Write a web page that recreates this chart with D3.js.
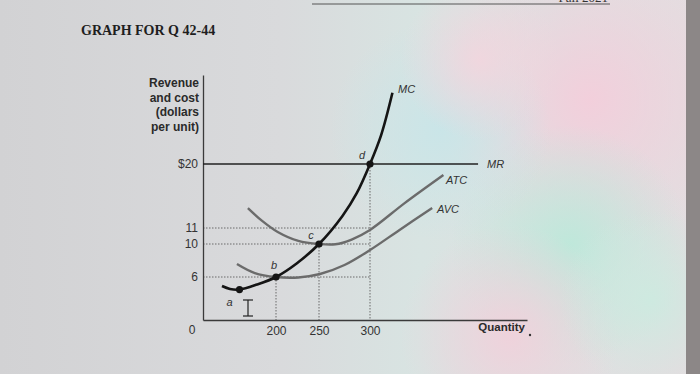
<!DOCTYPE html>
<html>
<head>
<meta charset="utf-8">
<script src="https://cdn.jsdelivr.net/npm/d3@7"></script>
<style>
  body { margin: 0; padding: 0; overflow: hidden; }
  svg { display: block; }
</style>
</head>
<body>
<div id="container"></div>
<script>
// values (quantity, dollars per unit)
var mcQ   = [52, 74, 100, 148, 200, 224, 250, 273, 287, 300, 311, 322];
var mcC   = [4.74, 4.33, 4.25, 4.95, 6, 7.64, 10, 12.7, 15.9, 20, 24.1, 30];
var atcQ  = [123, 162, 202, 226, 250, 266, 282, 300, 334, 372];
var atcC  = [13.8, 12, 10.75, 10.19, 10, 9.97, 10.28, 10.88, 14.5, 18.45];
var avcQ  = [93, 142, 200, 226, 251, 275, 300, 329, 361];
var avcC  = [7.58, 6.48, 6, 5.93, 6.36, 7.45, 9.27, 10.88, 13.8];
var mrPrice = 20;
var mrEnd = 406;

var pointNames = ["a", "b", "c", "d"];
var pointQ = [100, 200, 250, 300];
var pointC = [4.25, 6, 10, 20];

var yTicks = [6, 10, 11, 20];
var xTicks = [200, 250, 300];
var dottedPrices = [6, 10, 11];

var width = 700, height = 374;

var svg = d3.select("#container").append("svg")
  .attr("width", width)
  .attr("height", height);

// photo-ish background
var defs = svg.append("defs");
var base = defs.append("linearGradient").attr("id", "base")
  .attr("x1", "0").attr("x2", "1").attr("y1", "0").attr("y2", "0");
base.append("stop").attr("offset", "0").attr("stop-color", "#d2d2d4");
base.append("stop").attr("offset", "0.4").attr("stop-color", "#d9dadc");
base.append("stop").attr("offset", "0.6").attr("stop-color", "#d8e4e2");
base.append("stop").attr("offset", "1").attr("stop-color", "#e4dde0");
svg.append("rect").attr("width", width).attr("height", height).attr("fill", "url(#base)");

var blobs = [
  {id: "b1", cx: 590, cy: 100, r: 150, c: "#f3cedb"},
  {id: "b2", cx: 570, cy: 245, r: 120, c: "#bde8da"},
  {id: "b3", cx: 440, cy: 130, r: 110, c: "#c9e5e8"},
  {id: "b4", cx: 510, cy: 335, r: 110, c: "#f0d1db"},
  {id: "b5", cx: 650, cy: 300, r: 90, c: "#cdeae0"},
  {id: "b6", cx: 480, cy: 60, r: 80, c: "#f1d6de"}
];
blobs.forEach(function(b) {
  var g = defs.append("radialGradient").attr("id", b.id);
  g.append("stop").attr("offset", "0").attr("stop-color", b.c).attr("stop-opacity", 0.95);
  g.append("stop").attr("offset", "1").attr("stop-color", b.c).attr("stop-opacity", 0);
  svg.append("circle").attr("cx", b.cx).attr("cy", b.cy).attr("r", b.r)
    .attr("fill", "url(#" + b.id + ")");
});

// monitor edge at the right and the cut header at top
svg.append("rect").attr("x", 686).attr("y", 0).attr("width", 14).attr("height", height)
  .attr("fill", "#8c8787");
svg.append("line").attr("x1", 312).attr("x2", 610).attr("y1", 4).attr("y2", 4)
  .attr("stroke", "#555").attr("stroke-width", 1);
svg.append("text").attr("x", 608).attr("y", 2).attr("text-anchor", "end")
  .style("font-family", "Liberation Serif").style("font-size", "13px").attr("fill", "#333")
  .text("Fall 2021");

// title
svg.append("text")
  .attr("x", 81).attr("y", 35)
  .style("font-family", "Liberation Serif, serif")
  .style("font-weight", "bold")
  .style("font-size", "14px")
  .attr("fill", "#1e1e1e")
  .text("GRAPH FOR Q 42-44");

// scales: the drawing is not to scale, so piecewise
var x = d3.scaleLinear()
  .domain([0, 200, 250, 300, 454])
  .range([203, 276, 319, 370, 527]);
var y = d3.scaleLinear()
  .domain([0, 6, 10, 11, 20, 32.5])
  .range([320, 277, 244, 228, 164, 75]);

var font = "Liberation Sans, Arial, sans-serif";

// dotted guides
var guides = svg.append("g")
  .attr("stroke", "#6a6a6a")
  .attr("stroke-width", 1)
  .attr("stroke-dasharray", "1.5,1.5");
dottedPrices.forEach(function(p) {
  guides.append("line")
    .attr("x1", x(0)).attr("x2", x(300))
    .attr("y1", y(p)).attr("y2", y(p));
});
for (var i = 1; i < pointQ.length; i++) {
  guides.append("line")
    .attr("x1", x(pointQ[i])).attr("x2", x(pointQ[i]))
    .attr("y1", y(pointC[i])).attr("y2", y(0));
}

// axes
var yAxis = svg.append("g")
  .attr("transform", "translate(" + x(0) + ",0)")
  .call(d3.axisLeft(y).tickValues(yTicks).tickSize(0).tickPadding(5)
    .tickFormat(function(d) { return d == 20 ? "$20" : d; }));
var xAxis = svg.append("g")
  .attr("transform", "translate(0," + y(0) + ")")
  .call(d3.axisBottom(x).tickValues(xTicks).tickSize(0).tickPadding(6));
[yAxis, xAxis].forEach(function(a) {
  a.select(".domain").attr("stroke", "#3a3a3a").attr("stroke-width", 1.3);
  a.selectAll("text").style("font-family", font).style("font-size", "12px").attr("fill", "#333");
});

svg.append("text").attr("x", 192).attr("y", 334).attr("text-anchor", "middle")
  .style("font-family", font).style("font-size", "12px").attr("fill", "#333").text("0");

var yTitle = ["Revenue", "and cost", "(dollars", "per unit)"];
svg.append("text")
  .attr("text-anchor", "end")
  .style("font-family", font).style("font-weight", "bold").style("font-size", "12px")
  .attr("fill", "#2a2a2a")
  .selectAll("tspan").data(yTitle).enter().append("tspan")
  .attr("x", 199)
  .attr("y", function(d, i) { return 87 + i * 14.5; })
  .text(function(d) { return d; });

svg.append("text").attr("x", 525).attr("y", 331).attr("text-anchor", "end")
  .style("font-family", font).style("font-weight", "bold").style("font-size", "11.5px")
  .attr("fill", "#2a2a2a").text("Quantity");
svg.append("circle").attr("cx", 530).attr("cy", 335).attr("r", 1.2).attr("fill", "#333");

// MR
svg.append("line")
  .attr("x1", x(0)).attr("x2", x(mrEnd))
  .attr("y1", y(mrPrice)).attr("y2", y(mrPrice))
  .attr("stroke", "#222").attr("stroke-width", 1.6);

// cost curves
var line = d3.line()
  .x(function(d) { return x(d[0]); })
  .y(function(d) { return y(d[1]); })
  .curve(d3.curveCatmullRom.alpha(0.5));

function zip(a, b) { return a.map(function(v, i) { return [v, b[i]]; }); }

svg.append("path").datum(zip(atcQ, atcC)).attr("d", line)
  .attr("fill", "none").attr("stroke", "#6b6b6b").attr("stroke-width", 2.4);
svg.append("path").datum(zip(avcQ, avcC)).attr("d", line)
  .attr("fill", "none").attr("stroke", "#6b6b6b").attr("stroke-width", 2.4);
svg.append("path").datum(zip(mcQ, mcC)).attr("d", line)
  .attr("fill", "none").attr("stroke", "#151515").attr("stroke-width", 2.6);

// marked points
svg.selectAll("circle.pt").data(pointQ).enter().append("circle")
  .attr("class", "pt")
  .attr("cx", function(d) { return x(d); })
  .attr("cy", function(d, i) { return y(pointC[i]); })
  .attr("r", 3.6)
  .attr("fill", "#151515");

var labelOffsets = [[-10, 12], [-2, -12], [-8, -9], [-8, -9]];
svg.selectAll("text.pt").data(pointNames).enter().append("text")
  .attr("class", "pt")
  .attr("x", function(d, i) { return x(pointQ[i]) + labelOffsets[i][0]; })
  .attr("y", function(d, i) { return y(pointC[i]) + labelOffsets[i][1] + 4; })
  .attr("text-anchor", "middle")
  .style("font-family", font).style("font-style", "italic").style("font-size", "11px")
  .attr("fill", "#333")
  .text(function(d) { return d; });

// curve names
var curveLabels = [
  {t: "MC", x: 398, y: 93},
  {t: "MR", x: 487, y: 168},
  {t: "ATC", x: 446, y: 184},
  {t: "AVC", x: 437, y: 213}
];
svg.selectAll("text.cl").data(curveLabels).enter().append("text")
  .attr("class", "cl")
  .attr("x", function(d) { return d.x; })
  .attr("y", function(d) { return d.y; })
  .style("font-family", font).style("font-style", "italic").style("font-size", "11px")
  .attr("fill", "#333")
  .text(function(d) { return d.t; });

// text cursor from the screenshot
var cur = svg.append("g").attr("stroke", "#222").attr("stroke-width", 1.2);
cur.append("line").attr("x1", 248).attr("x2", 248).attr("y1", 300).attr("y2", 316);
cur.append("line").attr("x1", 243).attr("x2", 253).attr("y1", 300).attr("y2", 300);
cur.append("line").attr("x1", 243).attr("x2", 253).attr("y1", 316).attr("y2", 316);
</script>
</body>
</html>
